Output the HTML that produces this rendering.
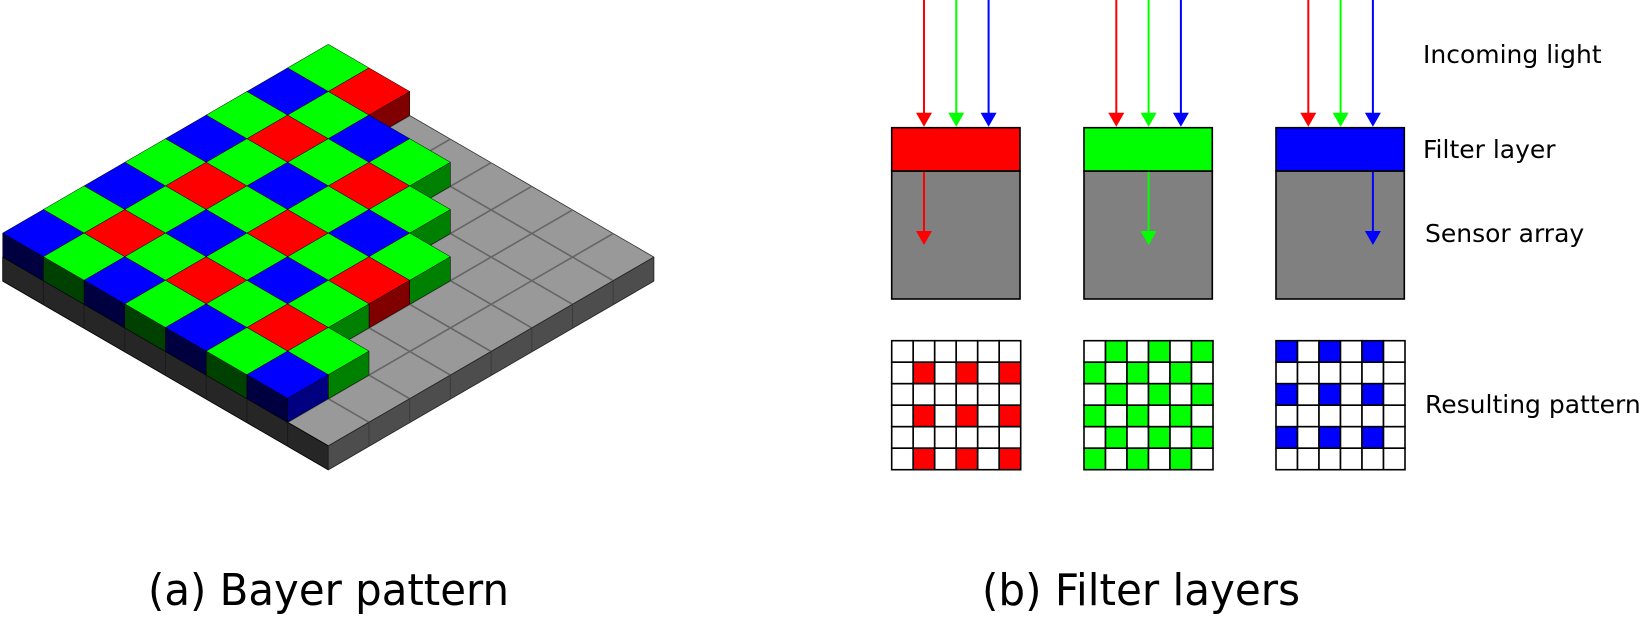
<!DOCTYPE html>
<html><head><meta charset="utf-8"><style>
html,body{margin:0;padding:0;background:#fff;}
svg{display:block;}
text{font-family:"DejaVu Sans","Liberation Sans",sans-serif;fill:#000;}
</style></head><body>
<svg id="s" width="1644" height="617" viewBox="0 0 1644 617" xmlns="http://www.w3.org/2000/svg">
<g id="iso"></g>
<g id="right"></g>
<text x="1423" y="63" font-size="25">Incoming light</text>
<text x="1423" y="158" font-size="25">Filter layer</text>
<text x="1425" y="242" font-size="25">Sensor array</text>
<text x="1425" y="413" font-size="25">Resulting pattern</text>
<text x="148" y="605" font-size="44" textLength="361" lengthAdjust="spacingAndGlyphs">(a) Bayer pattern</text>
<text x="982" y="605" font-size="44" textLength="318" lengthAdjust="spacingAndGlyphs">(b) Filter layers</text>
</svg>
<script>
(function(){
var NS="http://www.w3.org/2000/svg";
function P(i,j,z){return [328.3+40.7*(i-j),44.3+23.6*(i+j)-24*z];}
function poly(g,pts,fill,stroke,sw){var p=document.createElementNS(NS,"polygon");
p.setAttribute("points",pts.map(function(q){return q[0].toFixed(2)+","+q[1].toFixed(2);}).join(" "));
p.setAttribute("fill",fill);if(stroke){p.setAttribute("stroke",stroke);p.setAttribute("stroke-width",sw||0.6);p.setAttribute("stroke-linejoin","round");}
g.appendChild(p);}
function line(g,a,b,c,w){var l=document.createElementNS(NS,"line");l.setAttribute("x1",a[0]);l.setAttribute("y1",a[1]);l.setAttribute("x2",b[0]);l.setAttribute("y2",b[1]);l.setAttribute("stroke",c);l.setAttribute("stroke-width",w);g.appendChild(l);}
function rect(g,x,y,w,h,fill,stroke,sw){var r=document.createElementNS(NS,"rect");r.setAttribute("x",x);r.setAttribute("y",y);r.setAttribute("width",w);r.setAttribute("height",h);r.setAttribute("fill",fill);if(stroke){r.setAttribute("stroke",stroke);r.setAttribute("stroke-width",sw);}g.appendChild(r);}
var g=document.getElementById("iso");
// gray slab
poly(g,[P(0,0,-1),P(8,0,-1),P(8,8,-1),P(0,8,-1)],"#999999","#333",0.8);
for(var k=1;k<8;k++){line(g,P(k,0,-1),P(k,8,-1),"#666",1.6);line(g,P(0,k,-1),P(8,k,-1),"#666",1.6);}
poly(g,[P(0,8,-1),P(8,8,-1),P(8,8,-2),P(0,8,-2)],"#262626","#000",0.8);
poly(g,[P(8,0,-1),P(8,8,-1),P(8,8,-2),P(8,0,-2)],"#4d4d4d","#222",0.8);
for(var k=1;k<8;k++){line(g,P(k,8,-1),P(k,8,-2),"#1a1a1a",1);line(g,P(8,k,-1),P(8,k,-2),"#3a3a3a",1);}
// cubes
var maxI=[1,3,4,5,5,5,6,6];
var cells=[];
for(var j=0;j<8;j++)for(var i=0;i<=maxI[j];i++)cells.push([i,j]);
cells.sort(function(a,b){return (a[0]+a[1])-(b[0]+b[1]);});
cells.forEach(function(c){var i=c[0],j=c[1],col;
 if((i+j)%2==0)col=["#00ff00","#008000","#004000"];
 else if(i%2==1)col=["#ff0000","#800000","#400000"];
 else col=["#0000ff","#000080","#000040"];
 poly(g,[P(i+1,j,0),P(i+1,j+1,0),P(i+1,j+1,-1),P(i+1,j,-1)],col[1],"#000",0.5);
 poly(g,[P(i,j+1,0),P(i+1,j+1,0),P(i+1,j+1,-1),P(i,j+1,-1)],col[2],"#000",0.5);
 poly(g,[P(i,j,0),P(i+1,j,0),P(i+1,j+1,0),P(i,j+1,0)],col[0],"#000",0.5);
});
// right panel
var r=document.getElementById("right");
var xs=[891.7,1084,1276],fc=["#ff0000","#00ff00","#0000ff"];
function arrow(x,y0,tip,c){line(r,[x,y0],[x,tip-13],c,2);poly(r,[[x-8,tip-14],[x+8,tip-14],[x,tip]],c);}
xs.forEach(function(x0,b){
 rect(r,x0,171,128.3,128,"#808080","#000",1.6);
 rect(r,x0,127.7,128.3,43.3,fc[b],"#000",1.6);
 for(var a=0;a<3;a++)arrow(x0+32.3*(a+1),0,126.7,fc[a]);
 arrow(x0+32.3*(b+1),172,245,fc[b]);
 var gy=340.7,cs=21.5;
 for(var rr=0;rr<6;rr++)for(var cc=0;cc<6;cc++){var on;
  if(b==0)on=(rr%2==1&&cc%2==1);else if(b==1)on=((rr+cc)%2==1);else on=(rr%2==0&&cc%2==0);
  rect(r,x0+cc*cs,gy+rr*cs,cs,cs,on?fc[b]:"#fff","#000",1.6);}
});
})();
</script>
</body></html>
